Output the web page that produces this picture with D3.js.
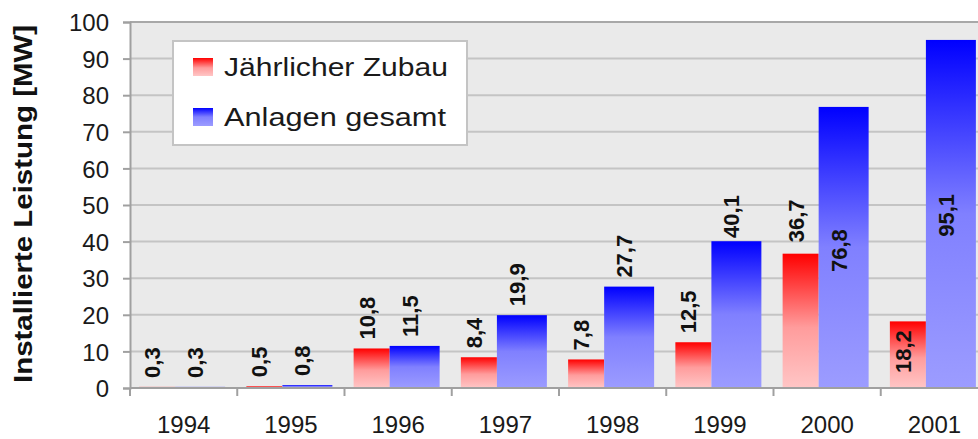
<!doctype html>
<html lang="de">
  <head>
    <meta charset="UTF-8" />
    <title>Installierte Leistung</title>
    <script src="https://d3js.org/d3.v7.min.js"></script>
    <style>
      body {
        margin: 0;
        padding: 0;
        background: #ffffff;
      }
      svg {
        display: block;
        font-family: 'Liberation Sans', Arial, sans-serif;
      }
      .tick text {
        font-size: 24px;
        fill: #1a1a1a;
      }
      .bar-label {
        font-size: 22px;
        font-weight: bold;
        fill: #111;
      }
      .legend-item {
        font-size: 26px;
        fill: #1a1a1a;
      }
      .axis-title {
        font-size: 25px;
        font-weight: bold;
        fill: #111;
      }
    </style>
  </head>
  <body>
    <div id="chart"></div>
    <script>
      // Data
      const years = ['1994', '1995', '1996', '1997', '1998', '1999', '2000', '2001']
      const zubau = [0.3, 0.5, 10.8, 8.4, 7.8, 12.5, 36.7, 18.2]
      const gesamt = [0.3, 0.8, 11.5, 19.9, 27.7, 40.1, 76.8, 95.1]
      const seriesNames = ['Jährlicher Zubau', 'Anlagen gesamt']
      const yTicks = [0, 10, 20, 30, 40, 50, 60, 70, 80, 90, 100]

      const W = 978
      const H = 439
      const plot = { left: 130, top: 22, right: 988, bottom: 388 }

      const svg = d3.select('#chart').append('svg').attr('width', W).attr('height', H)

      // gradients (dark at the top, pale at the bottom)
      const defs = svg.append('defs')
      const gradRed = defs.append('linearGradient').attr('id', 'gRed').attr('x1', 0).attr('y1', 0).attr('x2', 0).attr('y2', 1)
      gradRed.append('stop').attr('offset', '0%').attr('stop-color', '#ff0000')
      gradRed.append('stop').attr('offset', '55%').attr('stop-color', '#ff9c9c')
      gradRed.append('stop').attr('offset', '100%').attr('stop-color', '#ffc6c6')
      const gradBlue = defs.append('linearGradient').attr('id', 'gBlue').attr('x1', 0).attr('y1', 0).attr('x2', 0).attr('y2', 1)
      gradBlue.append('stop').attr('offset', '0%').attr('stop-color', '#0000ff')
      gradBlue.append('stop').attr('offset', '50%').attr('stop-color', '#8080ff')
      gradBlue.append('stop').attr('offset', '100%').attr('stop-color', '#9c9cff')

      // scales
      const x = d3.scaleBand().domain(years).range([plot.left, plot.right]).padding(0)
      const y = d3.scaleLinear().domain([0, 100]).range([plot.bottom, plot.top])
      const bw = x.bandwidth()

      // plot background
      svg
        .append('rect')
        .attr('x', plot.left)
        .attr('y', plot.top)
        .attr('width', plot.right - plot.left)
        .attr('height', plot.bottom - plot.top)
        .attr('fill', '#eaeaea')

      // gridlines
      svg
        .append('g')
        .selectAll('line')
        .data(yTicks.filter((t) => t > 0))
        .join('line')
        .attr('x1', plot.left)
        .attr('x2', plot.right)
        .attr('y1', (d) => y(d))
        .attr('y2', (d) => y(d))
        .attr('stroke', (d) => (d === 100 ? '#a8a8a8' : '#c4c4c4'))
        .attr('stroke-width', 2)

      // bars
      const rows = years.map((yr, i) => ({ year: yr, zubau: zubau[i], gesamt: gesamt[i] }))

      svg
        .append('g')
        .selectAll('rect')
        .data(rows)
        .join('rect')
        .attr('x', (d) => x(d.year) + bw * 0.085)
        .attr('width', bw * 0.336)
        .attr('y', (d) => y(d.zubau))
        .attr('height', (d) => y(0) - y(d.zubau))
        .attr('fill', 'url(#gRed)')

      svg
        .append('g')
        .selectAll('rect')
        .data(rows)
        .join('rect')
        .attr('x', (d) => x(d.year) + bw * 0.421)
        .attr('width', bw * 0.466)
        .attr('y', (d) => y(d.gesamt))
        .attr('height', (d) => y(0) - y(d.gesamt))
        .attr('fill', 'url(#gBlue)')

      // y axis
      svg
        .append('g')
        .attr('transform', `translate(${plot.left},0)`)
        .call(d3.axisLeft(y).tickValues(yTicks).tickSize(7).tickPadding(14))
        .call((g) => g.select('.domain').attr('stroke', '#a0a0a0').attr('stroke-width', 2))
        .call((g) => g.selectAll('.tick line').attr('stroke', '#a0a0a0').attr('stroke-width', 2))
        .call((g) => g.selectAll('.tick text').attr('dy', '0.36em'))

      // x axis: labels at band centres, tick marks at band edges
      svg
        .append('g')
        .attr('transform', `translate(0,${plot.bottom})`)
        .call(d3.axisBottom(x).tickSize(0).tickPadding(28))
        .call((g) => g.select('.domain').remove())

      svg
        .append('line')
        .attr('x1', plot.left)
        .attr('x2', plot.right)
        .attr('y1', plot.bottom)
        .attr('y2', plot.bottom)
        .attr('stroke', '#a0a0a0')
        .attr('stroke-width', 2)

      svg
        .append('g')
        .selectAll('line')
        .data(years)
        .join('line')
        .attr('x1', (d) => x(d))
        .attr('x2', (d) => x(d))
        .attr('y1', plot.bottom)
        .attr('y2', plot.bottom + 8)
        .attr('stroke', '#a0a0a0')
        .attr('stroke-width', 2)

      // value labels, rotated. Most sit just above the bar; a few were moved by hand
      // in the original, those are given as the value (MW) where the text starts.
      const fmt = (v) => String(v).replace('.', ',')
      const movedLabels = {
        'g1999': 41.0,
        'z2000': 39.8,
        'g2000': 31.7,
        'z2001': 4.1,
        'g2001': 41.3,
      }
      const labelData = []
      rows.forEach((d) => {
        labelData.push({ key: 'z' + d.year, v: d.zubau, cx: x(d.year) + bw * 0.085 + bw * 0.168 })
        labelData.push({ key: 'g' + d.year, v: d.gesamt, cx: x(d.year) + bw * 0.421 + bw * 0.233 })
      })

      svg
        .append('g')
        .selectAll('text')
        .data(labelData)
        .join('text')
        .attr('class', 'bar-label')
        .attr('transform', (d) => {
          const start = d.key in movedLabels ? y(movedLabels[d.key]) : y(d.v) - 9
          return `translate(${d.cx + 3},${start}) rotate(-90)`
        })
        .attr('text-anchor', 'start')
        .text((d) => fmt(d.v))

      // legend
      const legend = svg.append('g').attr('transform', 'translate(173,41)')
      legend
        .append('rect')
        .attr('width', 294)
        .attr('height', 104)
        .attr('fill', '#ffffff')
        .attr('stroke', '#c4c4c4')
        .attr('stroke-width', 2)

      const fills = ['url(#gRed)', 'url(#gBlue)']
      seriesNames.forEach((name, i) => {
        legend
          .append('rect')
          .attr('x', 20)
          .attr('y', 17 + i * 50)
          .attr('width', 20)
          .attr('height', 18)
          .attr('fill', fills[i])
        legend
          .append('text')
          .attr('class', 'legend-item')
          .attr('x', 51)
          .attr('y', 35 + i * 50)
          .attr('textLength', i === 0 ? 224 : 222)
          .attr('lengthAdjust', 'spacingAndGlyphs')
          .text(name)
      })

      // y axis title
      svg
        .append('text')
        .attr('class', 'axis-title')
        .attr('transform', 'translate(32,204) rotate(-90)')
        .attr('text-anchor', 'middle')
        .attr('textLength', 358)
        .attr('lengthAdjust', 'spacingAndGlyphs')
        .text('Installierte Leistung [MW]')
    </script>
  </body>
</html>
